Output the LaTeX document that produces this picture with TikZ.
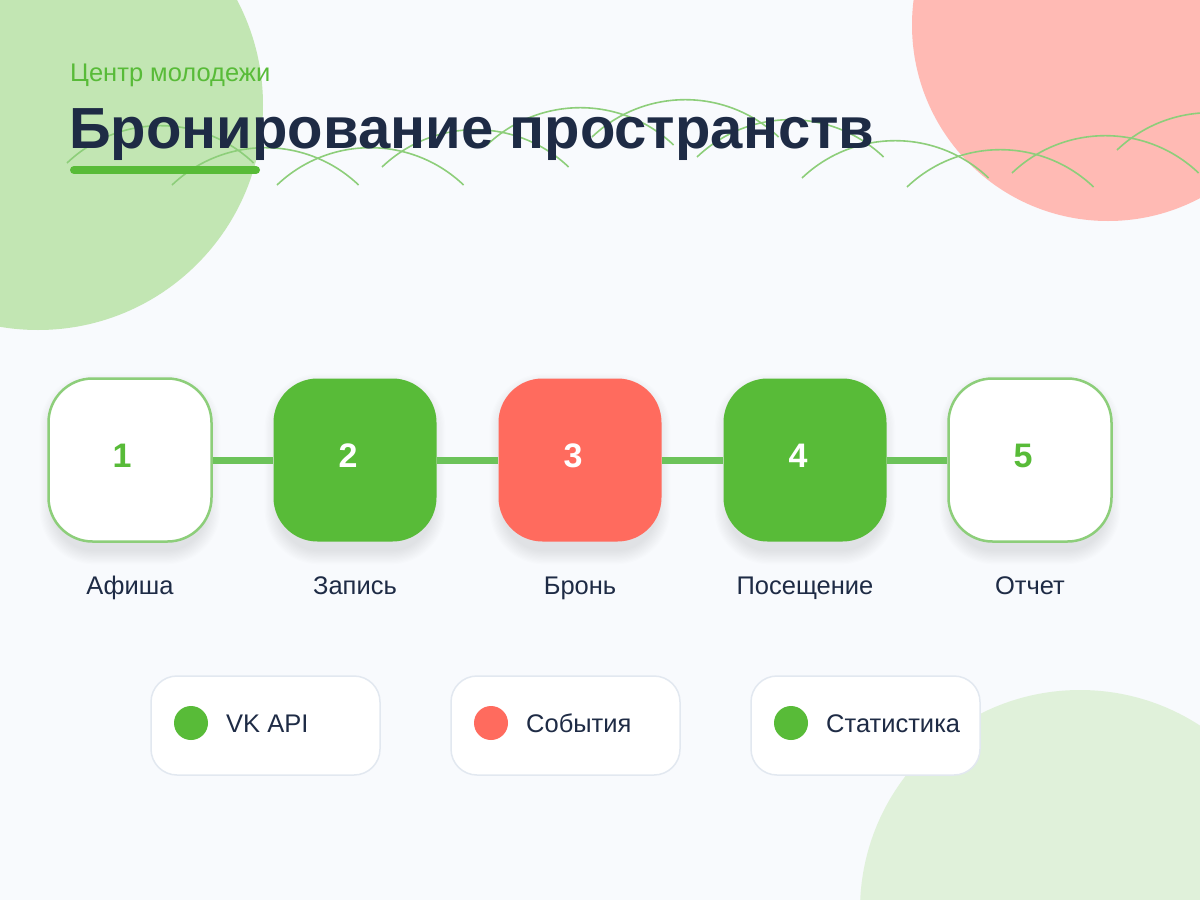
\documentclass[tikz,border=0pt]{standalone}
\usepackage{fontspec}
\setmainfont{Liberation Sans}
\definecolor{bgc}{HTML}{F8FAFD}
\definecolor{gmain}{HTML}{58BB38}
\definecolor{coral}{HTML}{FF6B5E}
\definecolor{glight}{HTML}{8DCE7A}
\definecolor{gline}{HTML}{6CC35A}
\definecolor{navy}{HTML}{1E2B45}
\definecolor{ctl}{HTML}{C2E6B3}
\definecolor{ctr}{HTML}{FFBAB4}
\definecolor{cbr}{HTML}{E0F1DA}
\definecolor{lgborder}{HTML}{E2E8F0}
\tikzset{
  stepbox/.style={rectangle, rounded corners=44pt, minimum width=163pt, minimum height=163pt, inner sep=0pt},
  openbox/.style={stepbox, fill=white, draw=glight, line width=2.5pt},
  greenbox/.style={stepbox, fill=gmain},
  redbox/.style={stepbox, fill=coral},
  numtxt/.style={font=\fontsize{34}{36}\selectfont\bfseries, inner sep=0pt},
  steplabel/.style={font=\fontsize{25.5}{28}\selectfont, text=navy, inner sep=0pt, anchor=base},
  conn/.style={draw=gline, line width=7pt},
  legendbox/.style={rectangle, rounded corners=26pt, minimum width=229pt, minimum height=99pt, fill=white, draw=lgborder, line width=1.5pt},
  legenddot/.style={circle, minimum size=34pt, inner sep=0pt},
  legendtxt/.style={font=\fontsize{25.5}{28}\selectfont, text=navy, anchor=base west, inner sep=0pt},
  arcline/.style={draw=glight, line width=1.6pt},
  softshadow/.style={fill=black, opacity=0.009},
}
\begin{document}
\begin{tikzpicture}[x=1pt,y=-1pt]
\useasboundingbox (0,0) rectangle (1200,900);
\clip (0,0) rectangle (1200,900);
\fill[bgc] (0,0) rectangle (1200,900);
% decorative circles
\fill[ctl] (38,105) circle[radius=225];
\fill[ctr] (1108,25) circle[radius=196];
\fill[cbr] (1080,910) circle[radius=220];
% decorative arcs
\foreach \ax/\ay in {67/163,172/185,277/185,382/167,487/145,592/137,697/157,802/178,907/187,1012/173,1117/150}
  \draw[arcline] (\ax,\ay) arc[start angle=226.4, end angle=313.6, radius=135.3];
% title
\node[anchor=base west, inner sep=0pt, text=gmain, font=\fontsize{25.5}{28}\selectfont] (sub) at (70,81) {Центр молодежи};
\node[anchor=base west, inner sep=0pt, text=navy, font=\fontsize{58}{62}\selectfont\bfseries] (title) at (69,148) {Бронирование пространств};
\coordinate (u1) at (74,170);
\coordinate (u2) at (256,170);
\draw[gmain, line width=8pt, line cap=round] (u1) -- (u2);
% soft shadows under the steps
\foreach \cx in {130,355,580,805,1030}
  \foreach \i in {1,...,12}
    \fill[softshadow, rounded corners={40pt+1.2pt*\i}] ({\cx-76-1.2*\i},{388-1.2*\i}) rectangle ({\cx+76+1.2*\i},{550+1.2*\i});
% steps
\node[openbox]  (b1) at (130,460) {};
\node[greenbox] (b2) at (355,460) {};
\node[redbox]   (b3) at (580,460) {};
\node[greenbox] (b4) at (805,460) {};
\node[openbox]  (b5) at (1030,460) {};
\draw[conn] (b1.east) -- (b2.west);
\draw[conn] (b2.east) -- (b3.west);
\draw[conn] (b3.east) -- (b4.west);
\draw[conn] (b4.east) -- (b5.west);
\node[numtxt, text=gmain] (n1) at (122,456) {1};
\node[numtxt, text=white] (n2) at (348,456) {2};
\node[numtxt, text=white] (n3) at (573,456) {3};
\node[numtxt, text=white] (n4) at (798,456) {4};
\node[numtxt, text=gmain] (n5) at (1023,456) {5};
\node[steplabel] (l1) at (130,594) {Афиша};
\node[steplabel] (l2) at (355,594) {Запись};
\node[steplabel] (l3) at (580,594) {Бронь};
\node[steplabel] (l4) at (805,594) {Посещение};
\node[steplabel] (l5) at (1030,594) {Отчет};
% legend
\node[legendbox] (g1) at (265.5,725.5) {};
\node[legendbox] (g2) at (565.5,725.5) {};
\node[legendbox] (g3) at (865.5,725.5) {};
\node[legenddot, fill=gmain] (d1) at (191,723) {};
\node[legenddot, fill=coral] (d2) at (491,723) {};
\node[legenddot, fill=gmain] (d3) at (791,723) {};
\node[legendtxt] (t1) at (226,732) {VK API};
\node[legendtxt] (t2) at (526,732) {События};
\node[legendtxt] (t3) at (826,732) {Статистика};
\end{tikzpicture}
\end{document}
